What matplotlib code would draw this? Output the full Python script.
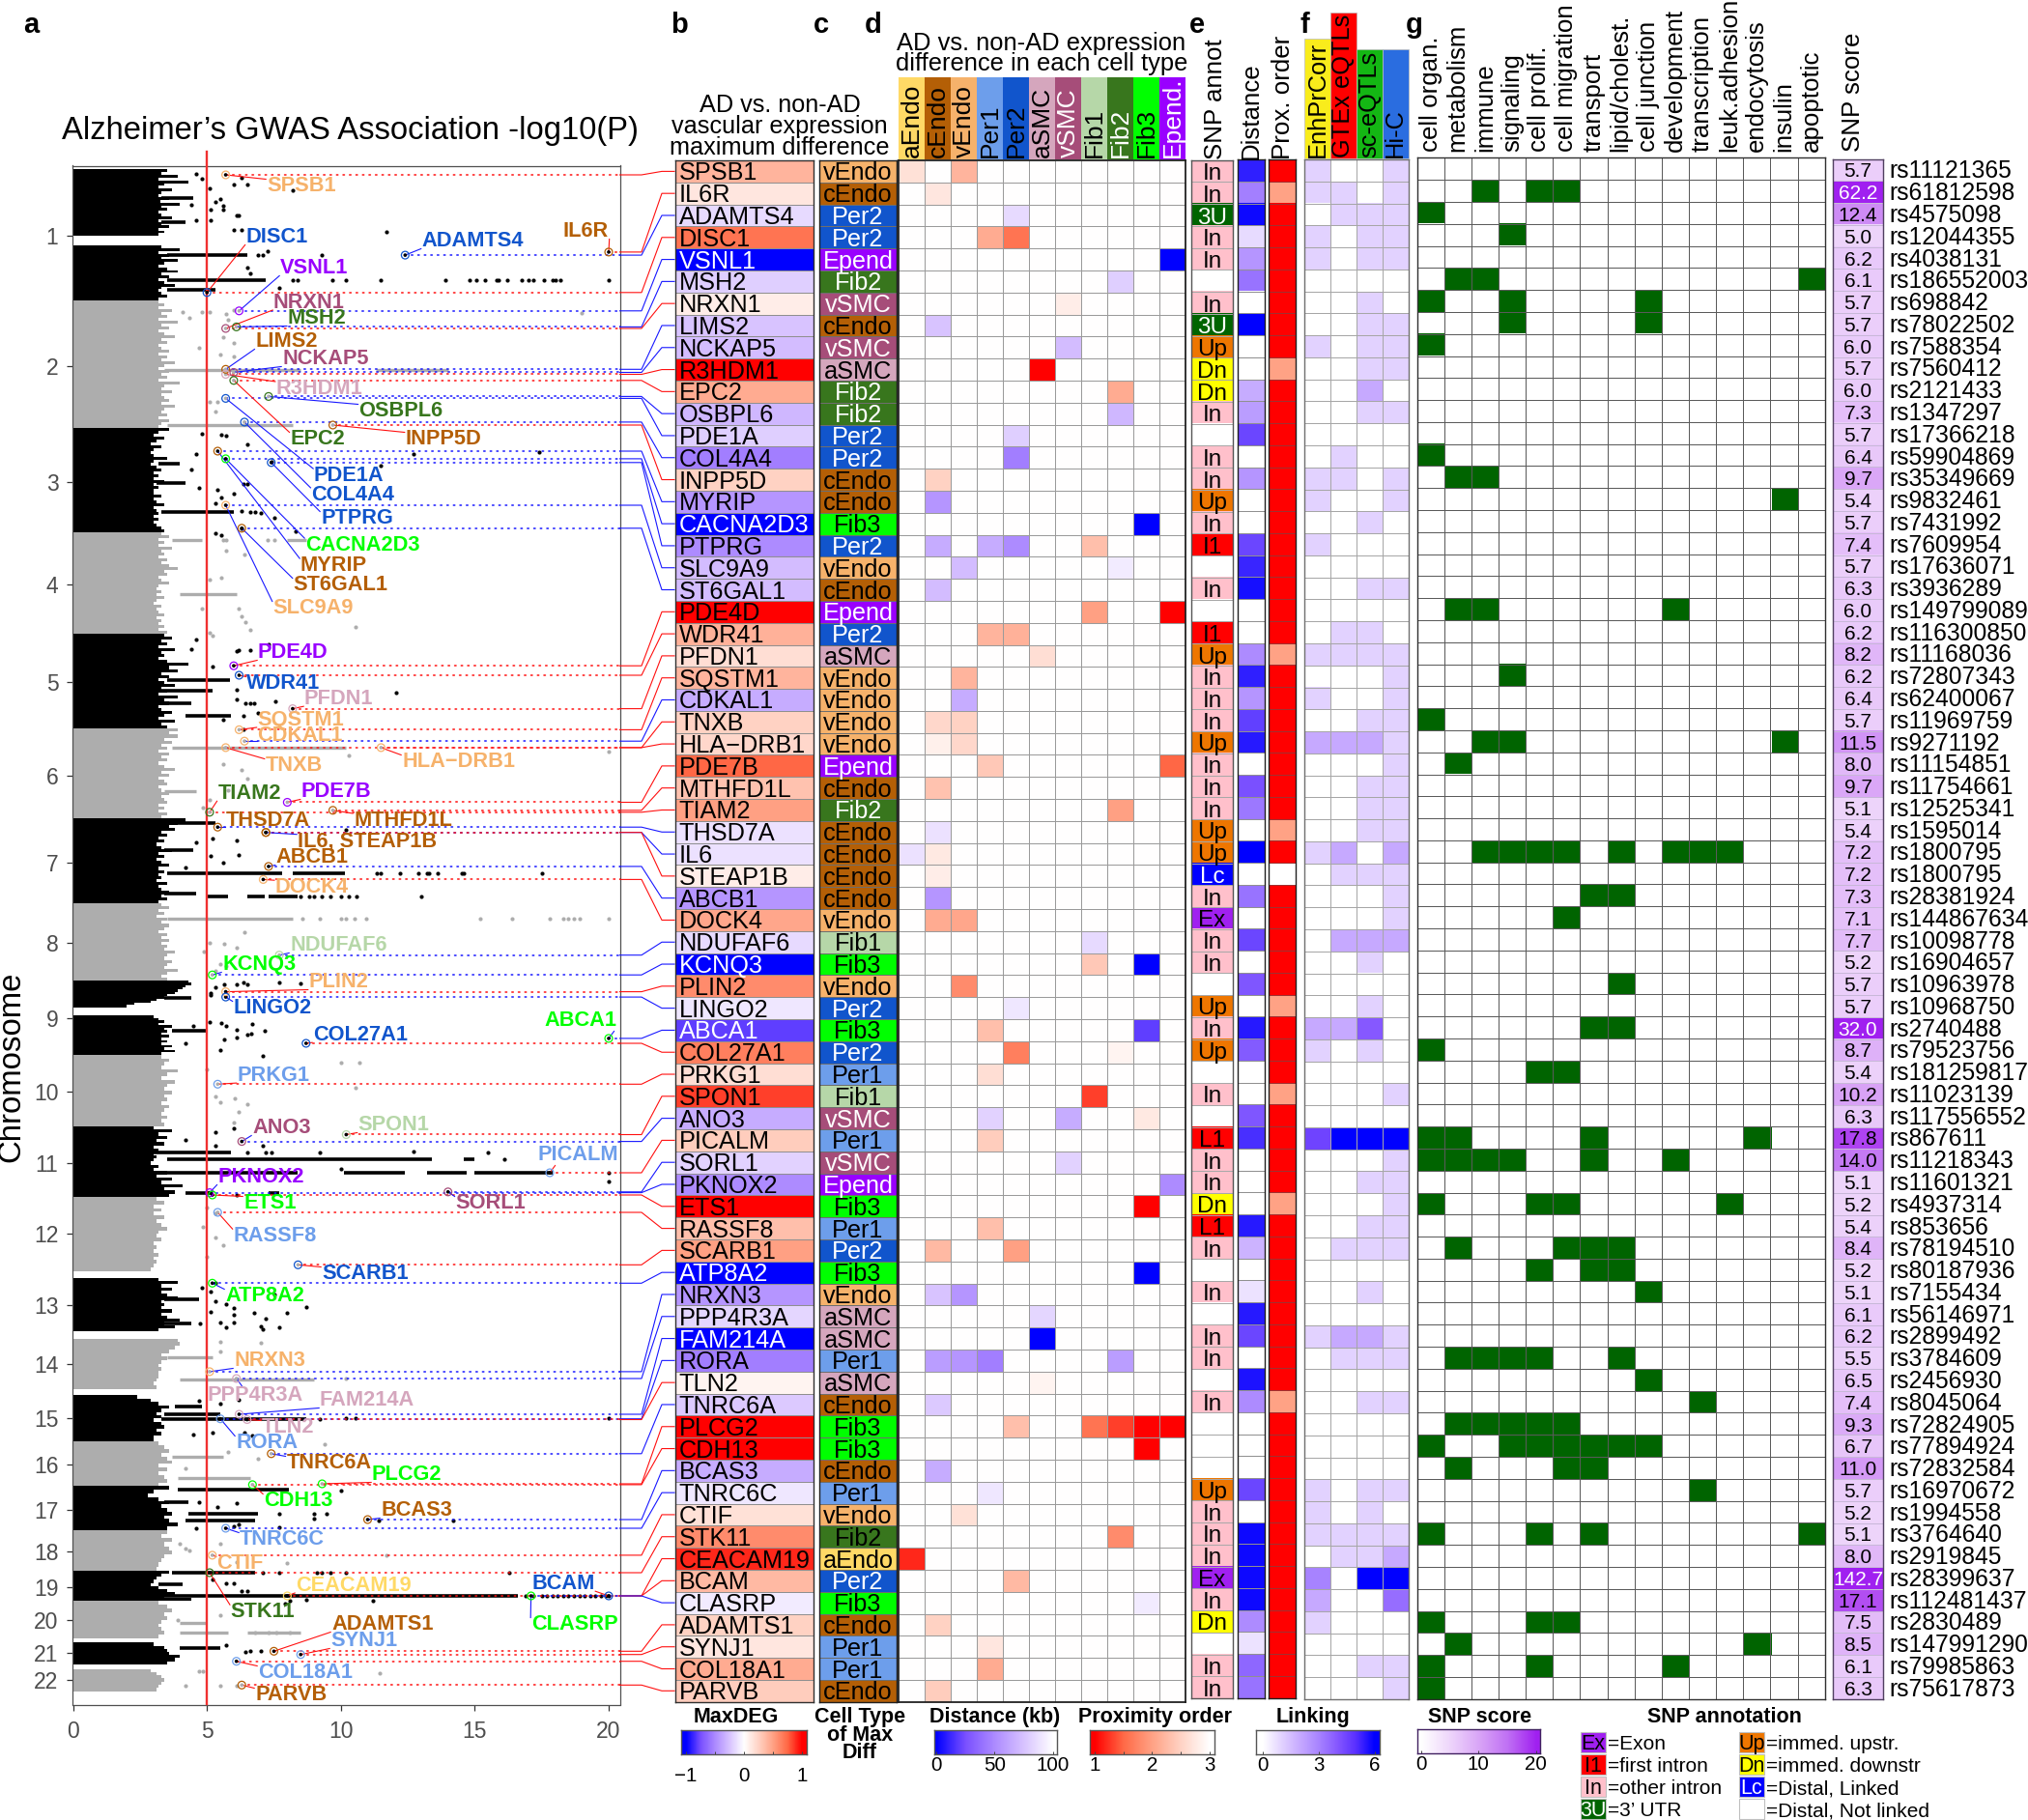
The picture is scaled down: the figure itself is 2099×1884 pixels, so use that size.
import numpy as np
import matplotlib
matplotlib.use("Agg")
import matplotlib.pyplot as plt
from matplotlib.colors import LinearSegmentedColormap, Normalize, to_rgba
from matplotlib.patches import Rectangle

plt.rcParams['font.family'] = ['Liberation Sans', 'DejaVu Sans']

# ------------------------------------------------------------------ data
genes = ["SPSB1","IL6R","ADAMTS4","DISC1","VSNL1","MSH2","NRXN1","LIMS2","NCKAP5","R3HDM1","EPC2","OSBPL6","PDE1A","COL4A4",
         "INPP5D","MYRIP","CACNA2D3","PTPRG","SLC9A9","ST6GAL1","PDE4D","WDR41","PFDN1","SQSTM1","CDKAL1","TNXB","HLA\u2212DRB1",
         "PDE7B","MTHFD1L","TIAM2","THSD7A","IL6","STEAP1B","ABCB1","DOCK4","NDUFAF6","KCNQ3","PLIN2","LINGO2","ABCA1","COL27A1",
         "PRKG1","SPON1","ANO3","PICALM","SORL1","PKNOX2","ETS1","RASSF8","SCARB1","ATP8A2","NRXN3","PPP4R3A","FAM214A","RORA",
         "TLN2","TNRC6A","PLCG2","CDH13","BCAS3","TNRC6C","CTIF","STK11","CEACAM19","BCAM","CLASRP","ADAMTS1","SYNJ1","COL18A1","PARVB"]
cell_of_max = ["vEndo","cEndo","Per2","Per2","Epend","Fib2","vSMC","cEndo","vSMC","aSMC","Fib2","Fib2","Per2","Per2",
               "cEndo","cEndo","Fib3","Per2","vEndo","cEndo","Epend","Per2","aSMC","vEndo","vEndo","vEndo","vEndo",
               "Epend","cEndo","Fib2","cEndo","cEndo","cEndo","cEndo","vEndo","Fib1","Fib3","vEndo","Per2","Fib3","Per2",
               "Per1","Fib1","vSMC","Per1","vSMC","Epend","Fib3","Per1","Per2","Fib3","vEndo","aSMC","aSMC","Per1",
               "aSMC","cEndo","Fib3","Fib3","cEndo","Per1","vEndo","Fib2","aEndo","Per2","Fib3","cEndo","Per1","Per1","cEndo"]
cell_types = ["aEndo","cEndo","vEndo","Per1","Per2","aSMC","vSMC","Fib1","Fib2","Fib3","Epend"]
cell_headers = ["aEndo","cEndo","vEndo","Per1","Per2","aSMC","vSMC","Fib1","Fib2","Fib3","Epend."]
cell_colors = ["#FFD966","#B45F06","#F6B26B","#6D9EEB","#1155CC","#D5A6BD","#A64D79","#B6D7A8","#38761D","#00FF00","#9900FF"]
cell_text_white = ["Per2","vSMC","Fib2","Epend"]

deg_aEndo = {"SPSB1":.17,"IL6":-.12,"CEACAM19":.9}
deg_cEndo = {"IL6R":.14,"LIMS2":-.25,"INPP5D":.25,"MYRIP":-.45,"PTPRG":-.35,"ST6GAL1":-.28,"TNXB":.22,"HLA\u2212DRB1":.08,
             "MTHFD1L":.33,"THSD7A":-.12,"IL6":.12,"STEAP1B":.1,"ABCB1":-.45,"DOCK4":.45,"SCARB1":.38,"NRXN3":-.25,"RORA":-.42,
             "TNRC6A":-.22,"BCAS3":-.35,"ADAMTS1":.25,"PARVB":.28}
deg_vEndo = {"SPSB1":.4,"SLC9A9":-.28,"SQSTM1":.4,"CDKAL1":-.35,"TNXB":.25,"HLA\u2212DRB1":.22,"DOCK4":.47,"PLIN2":.6,
             "NRXN3":-.45,"RORA":-.45,"CTIF":.17}
deg_Per1 = {"DISC1":.45,"PTPRG":-.35,"WDR41":.4,"PDE7B":.3,"ABCA1":.35,"PRKG1":.18,"ANO3":-.18,"PICALM":.28,"RASSF8":.35,
            "RORA":-.55,"TNRC6C":-.1,"SYNJ1":.14,"COL18A1":.45}
deg_Per2 = {"ADAMTS4":-.15,"DISC1":.7,"PDE1A":-.2,"COL4A4":-.55,"PTPRG":-.5,"WDR41":.42,"LINGO2":-.1,"COL27A1":.65,
            "SCARB1":.5,"PLCG2":.35,"BCAM":.38}
deg_aSMC = {"R3HDM1":1,"PFDN1":.18,"PPP4R3A":-.17,"FAM214A":-1,"TLN2":.06}
deg_vSMC = {"NRXN1":.1,"NCKAP5":-.28,"ANO3":-.35,"SORL1":-.18}
deg_Fib1 = {"PTPRG":.35,"PDE4D":.5,"NDUFAF6":-.15,"KCNQ3":.3,"SPON1":.85,"PLCG2":.7}
deg_Fib2 = {"MSH2":-.2,"EPC2":.45,"OSBPL6":-.3,"SLC9A9":-.08,"TIAM2":.5,"COL27A1":.06,"RORA":-.42,"PLCG2":.85,"STK11":.6}
deg_Fib3 = {"CACNA2D3":-1,"KCNQ3":-1,"ABCA1":-.8,"ANO3":.12,"ETS1":1,"ATP8A2":-1,"PLCG2":1,"CDH13":1,"CLASRP":-.08}
deg_Epend = {"VSNL1":-1,"PDE4D":1,"PDE7B":.75,"PKNOX2":-.5,"PLCG2":1}
deg_columns = [deg_aEndo,deg_cEndo,deg_vEndo,deg_Per1,deg_Per2,deg_aSMC,deg_vSMC,deg_Fib1,deg_Fib2,deg_Fib3,deg_Epend]

snp_annot = ["In","In","3U","In","In","","In","3U","Up","Dn","Dn","In","","In","In","Up","In","I1","","In","","I1","Up","In","In","In","Up",
             "In","In","In","Up","Up","Lc","In","Ex","In","In","","Up","In","Up","","In","","L1","In","In","Dn","L1","In","","In","","In","In",
             "","In","","","","Up","In","In","In","Ex","In","Dn","","In","In"]
annot_colors = {"":"#FFFFFF","In":"#FFC0CB","3U":"#006400","Up":"#EE7600","Dn":"#FFFF00","I1":"#FF0000","L1":"#FF0000","Lc":"#0000FF","Ex":"#A020F0"}
annot_text_white = ["3U","Lc"]

distance_kb = [10,45,3,85,55,40,100,0,100,100,65,58,22,100,55,100,100,22,12,5,100,100,50,10,55,20,8,100,25,42,100,0,100,40,100,22,100,28,100,8,30,100,
               100,28,15,100,100,100,8,68,100,88,8,22,100,6,50,100,100,100,22,100,3,3,3,3,50,88,35,40]
prox_second = ["IL6R","R3HDM1","PFDN1","THSD7A","LINGO2","SPON1","ETS1","TNRC6A"]
prox_third = ["STEAP1B"]

link_EnhPrCorr = {"SPSB1":1,"IL6R":1,"DISC1":1,"VSNL1":1,"NCKAP5":1,"INPP5D":1,"MYRIP":1,"PTPRG":1,"PFDN1":1,"CDKAL1":1,"HLA\u2212DRB1":2,"IL6":1,
                  "ABCA1":2,"COL27A1":1,"PICALM":4.5,"FAM214A":1,"TNRC6C":1,"CTIF":1,"STK11":1,"BCAM":3,"CLASRP":2,"ADAMTS1":1}
link_GTEx = {"IL6R":1,"ADAMTS4":1,"COL4A4":1,"INPP5D":1,"WDR41":1,"PFDN1":1,"HLA\u2212DRB1":2,"IL6":2,"STEAP1B":1,"NDUFAF6":2,"ABCA1":2,
             "PICALM":6,"SCARB1":1,"FAM214A":2,"RORA":1,"STK11":1,"CEACAM19":1}
link_sc = {"ADAMTS4":1,"DISC1":1,"VSNL1":1,"NRXN1":1,"LIMS2":1,"NCKAP5":1,"R3HDM1":1,"EPC2":2,"OSBPL6":1,"CACNA2D3":1,"ST6GAL1":1,"WDR41":1,"PFDN1":1,
           "TNXB":1,"HLA\u2212DRB1":2,"MTHFD1L":1,"TIAM2":1,"THSD7A":1,"STEAP1B":1,"NDUFAF6":2,"KCNQ3":1,"LINGO2":1,"ABCA1":4,"COL27A1":1,"PICALM":6,
           "PKNOX2":1,"RASSF8":1,"SCARB1":1,"NRXN3":1,"FAM214A":2,"RORA":1,"TNRC6A":1,"TNRC6C":1,"CTIF":1,"STK11":1,"CEACAM19":1,"BCAM":6,"COL18A1":1}
link_HiC = {"SPSB1":1,"IL6R":1,"ADAMTS4":1,"DISC1":1,"VSNL1":1,"LIMS2":1,"NCKAP5":1,"R3HDM1":1,"OSBPL6":1,"INPP5D":1,"MYRIP":1,"ST6GAL1":1,"PFDN1":1,
            "SQSTM1":1,"CDKAL1":1,"TNXB":1,"HLA\u2212DRB1":1,"PDE7B":1,"MTHFD1L":1,"TIAM2":1,"THSD7A":1,"IL6":2,"STEAP1B":1,"ABCB1":1,"DOCK4":1,"NDUFAF6":2,
            "SPON1":1,"PICALM":6,"SORL1":1,"PKNOX2":1,"ETS1":1,"RASSF8":1,"SCARB1":1,"FAM214A":1,"RORA":1,"TNRC6A":1,"TNRC6C":1,"STK11":1,"CEACAM19":2,
            "BCAM":6,"CLASRP":3.5,"COL18A1":1,"PARVB":1}
link_columns = [link_EnhPrCorr,link_GTEx,link_sc,link_HiC]
link_headers = ["EnhPrCorr","GTEx eQTLs","sc-eQTLs","Hi-C"]
link_header_colors = ["#F9EC1C","#FF0000","#14B714","#2A6DE0"]

go_terms = ["cell organ.","metabolism","immune","signaling","cell prolif.","cell migration","transport","lipid/cholest.","cell junction",
            "development","transcription","leuk.adhesion","endocytosis","insulin","apoptotic"]
go_cell_organ = ["ADAMTS4","NRXN1","NCKAP5","COL4A4","TNXB","COL27A1","PICALM","SORL1","ETS1","CDH13","STK11","ADAMTS1","COL18A1","PARVB"]
go_metabolism = ["MSH2","INPP5D","PDE4D","PDE7B","PICALM","SORL1","SCARB1","RORA","PLCG2","BCAS3","SYNJ1"]
go_immune = ["IL6R","MSH2","INPP5D","PDE4D","HLA\u2212DRB1","IL6","SORL1","RORA","PLCG2"]
go_signaling = ["DISC1","NRXN1","LIMS2","SQSTM1","HLA\u2212DRB1","IL6","SORL1","RORA","PLCG2","CDH13"]
go_prolif = ["IL6R","IL6","PRKG1","ETS1","ATP8A2","RORA","PLCG2","CDH13","STK11","ADAMTS1","COL18A1"]
go_migration = ["IL6R","IL6","DOCK4","PRKG1","ETS1","SCARB1","PLCG2","CDH13","BCAS3","ADAMTS1"]
go_transport = ["ABCB1","ABCA1","PICALM","SORL1","SCARB1","ATP8A2","CDH13","BCAS3","STK11"]
go_lipid = ["IL6","ABCB1","PLIN2","ABCA1","SCARB1","ATP8A2","RORA","CDH13"]
go_junction = ["NRXN1","LIMS2","NRXN3","TLN2","CDH13"]
go_development = ["PDE4D","IL6","SORL1","COL18A1"]
go_transcription = ["IL6","TNRC6A","TNRC6C"]
go_adhesion = ["IL6","ETS1"]
go_endocytosis = ["PICALM","SYNJ1"]
go_insulin = ["MYRIP","HLA\u2212DRB1"]
go_apoptotic = ["MSH2","STK11"]
go_columns = [go_cell_organ,go_metabolism,go_immune,go_signaling,go_prolif,go_migration,go_transport,go_lipid,go_junction,
              go_development,go_transcription,go_adhesion,go_endocytosis,go_insulin,go_apoptotic]

snp_score = [5.7,62.2,12.4,5.0,6.2,6.1,5.7,5.7,6.0,5.7,6.0,7.3,5.7,6.4,9.7,5.4,5.7,7.4,5.7,6.3,6.0,6.2,8.2,6.2,6.4,5.7,11.5,8.0,9.7,5.1,5.4,7.2,7.2,
             7.3,7.1,7.7,5.2,5.7,5.7,32.0,8.7,5.4,10.2,6.3,17.8,14.0,5.1,5.2,5.4,8.4,5.2,5.1,6.1,6.2,5.5,6.5,7.4,9.3,6.7,11.0,5.7,5.2,5.1,8.0,142.7,17.1,7.5,8.5,6.1,6.3]
snp_ids = ["rs11121365","rs61812598","rs4575098","rs12044355","rs4038131","rs186552003","rs698842","rs78022502","rs7588354","rs7560412","rs2121433",
           "rs1347297","rs17366218","rs59904869","rs35349669","rs9832461","rs7431992","rs7609954","rs17636071","rs3936289","rs149799089","rs116300850",
           "rs11168036","rs72807343","rs62400067","rs11969759","rs9271192","rs11154851","rs11754661","rs12525341","rs1595014","rs1800795","rs1800795",
           "rs28381924","rs144867634","rs10098778","rs16904657","rs10963978","rs10968750","rs2740488","rs79523756","rs181259817","rs11023139","rs117556552",
           "rs867611","rs11218343","rs11601321","rs4937314","rs853656","rs78194510","rs80187936","rs7155434","rs56146971","rs2899492","rs3784609","rs2456930",
           "rs8045064","rs72824905","rs77894924","rs72832584","rs16970672","rs1994558","rs3764640","rs2919845","rs28399637","rs112481437","rs2830489",
           "rs147991290","rs79985863","rs75617873"]

# genome position of each lead SNP along the Manhattan y axis
hit_pos = [181,260.9,264.1,302.8,321.8,338.4,340,382.3,385.5,387.5,393.8,410.4,412.4,436.9,440,467,474.9,478.8,523,546.8,689.2,699,733.6,755.4,767.2,773.9,773.9,
           830.5,838.8,840.8,856.2,861.7,861.7,896.9,910.4,988.7,1009.2,1026.6,1032.1,1074.9,1080,1122.3,1174.5,1181.6,1214,1233.8,1234.6,1237,1255,1309.3,1328.3,
           1419.9,1427,1464,1468.7,1469.5,1504.8,1536,1536.9,1573,1582,1609.9,1628,1652,1652,1652,1709.3,1712.7,1719.7,1744.3]

chrom_labels = [str(i) for i in range(1,23)]
chrom_ticks = [244.3,378.8,499.4,605.3,706.2,802.8,893,976,1054,1130,1204,1277,1350.7,1411.7,1468,1516,1563,1606,1643,1677,1711,1738.7]
band_top = [175.1,254.2,310.8,443.2,551.2,655.6,754.2,847.5,934.9,1015.1,1051,1092,1165.8,1239,1323,1385.7,1444.5,1492.5,1538.4,1583.8,1625.9,1657.5,1700.4,1727.6]
band_bot = [244.3,310.8,443.2,551.2,655.6,754.2,847.5,934.9,1015.1,1042.8,1091.9,1165.8,1239,1316,1378.2,1437.8,1492.5,1538.4,1583.8,1625.9,1657.5,1695.9,1722.7,1750.6]
band_black = [1,1,0,1,0,1,0,1,0,1,1,0,1,0,1,0,1,0,1,0,1,0,1,0]
edge_chr1a = [3.5,3.3,3.9,3.2,4.3,3.4,3.2,3.7,3.3,3.2,3.6,3.25,4.0,3.3,3.5,3.2,3.3,3.7,3.2,3.3,3.6,3.2,3.4,3.2]
edge_chr1b = [3.3,4.0,3.2,3.6,3.3,3.9,3.4,3.2,3.5,3.9,3.3,3.6,3.2,3.4,3.8,3.3,3.2,3.3,3.5,3.2]
edge_chr2 = [3.2,3.4,3.2,3.7,3.3,3.5,3.2,3.9,3.3,3.6,3.2,3.4,3.8,3.3,3.5,3.2,3.3,3.6,3.2,3.5,3.3,3.8,3.4,3.2,3.6,3.3,3.5,3.2,4.0,3.4,3.3,3.7,3.3,3.4,3.6,3.3,3.8,3.4,3.3,3.5,3.2,3.6,3.3,3.2]
edge_chr3 = [3.6,3.2,3.0,3.4,3.1,2.9,3.3,3.0,2.9,3.0,3.5,3.0,2.9,3.1,3.3,3.0,3.2,3.0,3.4,3.0,3.2,3.0,3.0,3.3,3.0,3.1,3.4,3.0,3.1,3.2,3.0,3.2,3.0,3.1,3.3,3.4]
edge_chr4 = [3.3,3.6,3.2,3.4,3.2,3.7,3.3,3.4,3.2,3.5,3.3,3.6,3.9,3.4,3.5,3.2,3.3,3.6,3.2,3.1,3.3,3.1,3.4,3.1,3.0,3.3,3.1,3.2,3.4,3.1,3.3,3.2,3.4,3.2,3.5]
edge_chr5 = [3.4,3.7,3.3,3.5,3.2,3.8,3.3,3.4,3.2,3.5,4.3,3.6,3.9,3.3,3.6,3.2,3.4,3.8,3.3,3.5,3.2,3.9,3.4,3.6,3.2,3.3,3.7,3.4,3.2,3.8,3.3,3.5]
edge_chr6 = [3.9,3.6,3.9,3.4,3.7,3.3,3.5,3.2,3.6,3.3,3.5,3.2,3.4,3.8,3.3,3.6,3.2,3.4,3.5,3.2,3.3,3.6,3.3,3.4,3.5,3.2,3.4,3.2,3.5,3.3]
edge_chr7 = [4.2,3.9,3.6,3.8,3.3,3.5,3.2,3.4,3.1,3.3,3.7,3.2,3.4,3.1,3.3,3.6,3.2,3.4,3.2,3.3,3.1,3.5,3.2,3.3,3.6,3.3,3.5,3.2]
edge_chr8 = [3.3,3.6,3.2,3.4,3.1,3.5,3.3,3.6,3.4,3.2,3.5,3.3,3.6,3.3,3.5,3.4,3.8,3.5,3.4,3.7,3.5,3.4,3.9,3.5,3.3,3.5]
edge_chr9a = [4.3,4.4,4.2,4.1,3.9,3.8,3.5,3.4,3.1,2.9,2.3,2.0]
edge_chr9b = [3.0,3.2,3.4,3.2,3.7,3.4,3.5,3.3,3.6,3.3,3.5,3.3,3.7,3.4,3.8,3.3]
edge_chr10 = [3.3,3.6,3.4,3.3,3.9,3.5,3.3,3.8,3.5,3.4,3.7,3.4,3.5,3.3,3.6,3.4,3.3,3.5,3.3,3.4]
edge_chr11 = [3.0,3.7,3.2,3.5,3.1,3.4,3.0,3.2,3.0,3.1,3.0,2.9,3.2,3.0,3.5,3.1,3.7,3.3,4.1,3.4,3.8,3.6]
edge_chr12 = [3.1,3.4,3.0,3.3,3.0,3.4,3.1,3.3,3.5,3.2,3.1,3.3,3.0,3.1,3.0,3.2,3.0,3.1,3.0,2.9]
edge_chr13 = [3.2,3.9,3.3,3.7,3.3,3.5,3.9,3.3,3.4,3.3,3.7,3.3,3.5,4.0,3.4,3.8,3.2]
edge_chr14 = [3.9,4.0,3.8,3.6,3.3,3.5,3.3,3.2,3.3,3.2,3.2,3.1,3.0,3.1]
edge_chr15 = [2.4,2.9,3.2,3.6,3.3,3.1,3.3,3.0,3.3,3.4,3.1,3.3,3.0,3.0]
edge_chr16 = [3.2,3.4,3.6,3.3,3.5,3.7,3.2,3.5,3.2,3.4,3.5,3.2]
edge_chr17 = [3.6,3.0,2.8,3.2,3.6,3.3,3.5,3.7,3.4,3.6,3.9,3.5]
edge_chr18 = [3.5,3.3,3.7,3.4,3.6,3.7,3.4,3.3,3.2,3.1]
edge_chr19 = [3.6,3.3,3.1,3.0,2.9,3.2,3.5,3.8,3.4,4.4]
edge_chr20 = [3.2,3.5,3.7,3.4,3.5,3.3,3.2,3.3,3.4,3.2]
edge_chr21 = [3.0,3.4,3.5,3.6,4.0,3.8,3.5]
edge_chr22 = [2.9,3.1,3.3,3.4,3.3,3.2,3.1]
band_edges = [edge_chr1a,edge_chr1b,edge_chr2,edge_chr3,edge_chr4,edge_chr5,edge_chr6,edge_chr7,edge_chr8,edge_chr9a,edge_chr9b,edge_chr10,
              edge_chr11,edge_chr12,edge_chr13,edge_chr14,edge_chr15,edge_chr16,edge_chr17,edge_chr18,edge_chr19,edge_chr20,edge_chr21,edge_chr22]

streak_black = [(264,3.5,6.5),(289.8,3.5,7.2),(299.7,3.5,5.3),(205,3.3,4.5),(230,3.3,4.2),(530,3.3,6.0),(480,3.2,4.0),(500,3.1,4.2),
                (704,3.5,5.85),(715,3.3,5.2),(741.5,4.2,5.9),(728,3.4,4.4),(904.4,3.5,7.8),(904.4,8.2,10.15),(928.5,5.0,5.8),(928.5,6.5,7.15),
                (928.5,7.3,8.4),(852,3.5,5.3),(880,3.4,4.5),(925,3.4,4.6),(1067,3.7,5.0),(1033,3.4,4.4),(1193,2.9,5.9),(1200,3.5,13.4),(1200,14.6,15),
                (1214,3.5,8.4),(1214,10.1,12.4),(1214,13.2,14.7),(1214,15,17.9),(1234.6,4.2,5.2),(1234.6,7.3,7.7),(1468.7,3.3,8.7),(1463.9,3.4,5.5),
                (1456,3.8,4.8),(1542,3.9,8.05),(1566.7,4.3,6.9),(1574,4.2,6.8),(1555,3.4,4.3),(1652,2.9,16.6),(1628,3.7,6.8),(1640,3.2,4.1),
                (1706,4.0,5.5),(1345,3.4,4.7),(1370,3.3,4.4)]
streak_grey = [(383,3.4,5.0),(383,5.0,8.5),(383,11.3,14.0),(440,3.5,8.2),(615,4.0,6.1),(559.5,3.7,4.8),(559.5,8,8.7),(774,3.7,10.2),(818.6,3.4,4.6),
               (951,3.5,8.2),(1405,3.5,5.2),(1427.7,4.0,9.0),(1507.8,3.7,5.6),(1529.8,3.9,6.6),(1680,4.0,5.0),(1690,4.0,5.8),(1690,6.5,8.5)]

chr1_dots = [(6.3,183.8),(6.5,191),(6.0,191),(8.2,196.9),(5.1,195),(5.3,208.7),(5.5,206),(5.6,212.7),(5.6,217.4),(6.1,222.6),(6.2,223.4),(5.15,216.6),(5.15,228.5),
             (6.0,237.6),(6.3,238.4),(11.7,239.6),(7.25,260),(9.3,264),(6.9,264),(7.1,264),(6.5,277),(6.6,282.7),(7.7,297.7),(4.6,180),(4.8,185),(4.4,212),(4.6,228)]
chr1_row = [8.2,8.4,9.7,10.2,11.5,13.9,14.8,15.05,15.4,15.8,15.9,16.2,16.75,17,17.2,17.6,17.9,18,18.2,20]
chr3_dots = [(5.55,450),(5.7,451),(4.8,449),(6.5,460),(12.7,470.5),(17.4,468.5),(11.5,481.6),(7.4,477.6),(6.35,501),(6.5,501),(5.4,507),(5.55,515),(6,511),(5.3,521),
             (6.3,529),(6.6,530),(6.8,530),(7,531),(7.5,535.7),(8.3,549.6),(6.3,546.8),(5.3,552),(5.55,554),(4.6,470),(4.4,486),(4.7,505)]
chr5_dots = [(7.3,666.6),(6.1,674),(6.2,673),(6.6,672.6),(12.05,716.8),(6.1,713.8),(6.1,723.7),(6.45,728.5),(6.6,728.5),(6.75,728.5),(7.55,725.7),(6.9,737.6),(6.35,741.5),(6.35,755.4),
             (5.2,690),(5.6,745),(4.6,662),(4.4,672)]
chr7_row = [11.35,11.5,12.2,12.9,13.2,13.3,13.6,14.5,14.6,17.5]
chr7_dots = [(8.5,928),(8.8,928),(9.0,928),(9.3,928),(9.6,928),(10.0,928),(10.3,928),(10.6,928),(13,928),(10.2,859),(6.2,885),(5.15,885.8),(4.2,897.7),(5.6,893),(6.1,870),(5.2,868),(4.6,872)]
chr89_dots = [(5.15,1028),(5.3,1022),(5.65,1019.5),(6.1,1019.5),(6.35,1017.5),(6.5,1019.5),(7.7,1017.5),(8.5,1018.3),(5.15,1030),(5.1,1057.8),(5.55,1059),(5.7,1061.8),(6.1,1065.8),
              (6.5,1070.9),(6.65,1069.7),(6.7,1059.8),(7.15,1067),(6.1,1073.7),(5.65,1075.6),(5.5,1087.5),(7.1,1093.4),(4.5,1062),(4.2,1080)]
chr11_dots = [(6.5,1193),(7.2,1193),(7.4,1193),(9.2,1193),(12.7,1192),(15.5,1193.5),(16.1,1200),(10,1210),(20,1214),(20,1222.8),(5.3,1172),(6,1168),(7.1,1186),(5.3,1186),(4.2,1180),(6.1,1237)]
chr13_dots = [(4.8,1332.8),(5.3,1328),(5.15,1337),(5.3,1346.6),(5.7,1350.3),(6.0,1354),(6.0,1361.5),(6.75,1358.8),(8.0,1358.8),(8.7,1352.9),(5.5,1369),(5.7,1374.5),(6.0,1369),(7,1372.6),
              (7.1,1376.3),(7.2,1365),(7.7,1373.7),(7.5,1340),(4.75,1370),(5.15,1357.7)]
chr15_dots = [(9.2,1469.5),(10.2,1467.6),(10.55,1467.6),(20,1467.6),(5.5,1453),(6.2,1449),(5.2,1483),(6.4,1483),(6.7,1486),(4.7,1450),(4.5,1485)]
chr17_dots = [(10,1543.2),(9.0,1566.7),(9.0,1572),(9.45,1566.7),(7.7,1566.7),(11.4,1574),(14.2,1574),(7.7,1581),(6.0,1580),(6.2,1578),(4.7,1555),(5.4,1560),(6.1,1556),(4.6,1582)]
chr19_dots = [(7.1,1628),(7.7,1628),(9.1,1628),(9.3,1628),(9.6,1628),(10.2,1628),(16.3,1628),(5.2,1635),(5.7,1639),(6.0,1639),(6.3,1647),(6.5,1647),(8.1,1657),(8.7,1656),(11.2,1657.5),(7.9,1660)]
chr19_row = [16.9,17.2,17.5,17.7,17.9,18.1,18.3,18.5,18.7,18.9,19.1,19.3,19.5,19.7,19.9,20]
chr21_dots = [(6.45,1710.5),(6.6,1709),(7.0,1709),(5.7,1703)]
grey_dots = [(5.1,323),(5.7,325),(5.8,331),(6,321),(19,324),(4.8,323),(4.35,329),(4.1,323),(5.6,349),(6,355),(5.5,367),(6,369),(5.4,416),(5.3,426),(5.1,416),(4.7,360),
             (5.55,598),(5.7,558.7),(5.6,558.7),(7.25,559),(7.5,559),(5.7,570),(6.4,574),(6.2,630),(6.3,637.8),(6.45,643.7),(6.6,651.6),(10.55,648.8),(5.2,658),(5.1,655),(4.8,630),(5.1,600),
             (10.3,782),(20,778),(6.5,806),(6.3,797),(5.8,818),(4.85,836),(5.1,828),(5.6,791),
             (5.65,976.8),(6.1,980.7),(6.4,965),(5.1,976),(4.9,985),(5.5,998.5),(5.7,1000.5),(5.3,1005),
             (10,1100),(10.7,1100),(10.55,1126),(6.05,1137),(6.2,1150.8),(5.5,1141),(6,1162),(5,1107),(5.3,1135),(6.5,1143),
             (5,1250),(5.3,1256),(5.3,1281),(5.6,1289),(4.85,1270),(5,1301),
             (5.5,1389.4),(5.5,1398.7),(7,1390.5),(10.2,1426.6),(9.4,1494.8),(6.9,1510),(4.2,1520),(5.8,1503),
             (11.7,1610),(8,1618.4),(6.1,1616.6),(4.2,1603),(4.35,1605),(4.0,1598),(5.5,1598),
             (5.5,1672),(3.9,1677),(6.8,1690),(7.3,1690),(7.6,1690),(8.1,1690),
             (11.45,1732),(5.5,1745),(6.1,1745),(4.7,1730),(4.85,1730),(4.2,1745)]
chr8_row = [8.55,9.2,10,10.2,10.5,10.95,15.2,16.4,17.8,18.3,18.5,18.7,18.9,20]

# gene name label layout in the Manhattan panel (reference pixels; left edge, centre)
label_pos = {"SPSB1":(276,193),"DISC1":(254.5,246),"ADAMTS4":(436.6,250),"IL6R":(582.6,240),"VSNL1":(290,278),"NRXN1":(283,313.5),"MSH2":(297.8,330),
             "LIMS2":(264.3,354),"NCKAP5":(292,372),"R3HDM1":(285.7,402.5),"OSBPL6":(371.4,426),"EPC2":(300.4,455),"INPP5D":(419.6,455),"PDE1A":(325,492.6),
             "COL4A4":(322.3,512.4),"PTPRG":(332,537),"CACNA2D3":(316,564.6),"MYRIP":(311,585.6),"ST6GAL1":(303.6,606),"SLC9A9":(282.6,630),"PDE4D":(267,676),
             "WDR41":(255.4,708),"PFDN1":(315,723.7),"SQSTM1":(266.5,745.5),"CDKAL1":(266.5,762),"TNXB":(274.6,793),"HLA\u2212DRB1":(416,789),"TIAM2":(225.4,821.8),
             "PDE7B":(311.6,820),"THSD7A":(233.5,850),"MTHFD1L":(366,849.5),"IL6":(308,871.2),"ABCB1":(285.7,888),"DOCK4":(284.8,918.7),"NDUFAF6":(300,979),
             "KCNQ3":(230,999),"PLIN2":(319.6,1017),"LINGO2":(241.5,1044),"ABCA1":(563.4,1057),"COL27A1":(324,1071.7),"PRKG1":(245.5,1113.6),"SPON1":(370.5,1165),
             "ANO3":(261,1168),"PICALM":(556,1196),"PKNOX2":(225.4,1219),"SORL1":(471.4,1246),"ETS1":(252,1246),"RASSF8":(241.5,1279.7),"SCARB1":(333,1319),
             "ATP8A2":(233,1342),"NRXN3":(242,1409),"PPP4R3A":(215,1445),"FAM214A":(331,1450),"TLN2":(271,1478),"RORA":(244,1494),"TNRC6A":(296.4,1515),
             "PLCG2":(385,1527),"CDH13":(273,1554),"BCAS3":(394,1564),"TNRC6C":(248,1594),"CTIF":(224.6,1619),"CEACAM19":(306,1641.5),"BCAM":(550,1639.7),
             "STK11":(238.8,1668.7),"CLASRP":(550,1682),"ADAMTS1":(343,1682),"SYNJ1":(342,1699),"COL18A1":(267,1732),"PARVB":(264,1755)}
label_override = {"IL6":"IL6, STEAP1B"}

# ------------------------------------------------------------------ helpers
W, H = 2099, 1884
fig = plt.figure(figsize=(W/100, H/100), dpi=100, facecolor="white")
N = len(genes)
assert all(len(a) == N for a in [cell_of_max, snp_annot, distance_kb, snp_score, snp_ids, hit_pos])
gene_idx = {g:i for i,g in enumerate(genes)}
ctype_color = dict(zip(cell_types, cell_colors))

def axpx(l,t,r,b,**kw):
    return fig.add_axes([l/W, 1-b/H, (r-l)/W, (b-t)/H], **kw)

def T(x,y,s,size=18,ha="center",va="baseline",color="black",weight="normal",rot=0,zorder=10):
    return fig.text(x/W, 1-y/H, s, fontsize=size, ha=ha, va=va, color=color, fontweight=weight,
                    rotation=rot, zorder=zorder)

def table(box, rgba, grid, border, grid_lw=1.0, border_lw=1.4):
    l,t,r,b = box
    ax = axpx(l,t,r,b)
    nr,nc = rgba.shape[:2]
    ax.imshow(rgba, aspect="auto", extent=(0,nc,nr,0), interpolation="nearest")
    ax.hlines(np.arange(1,nr), 0, nc, colors=grid, lw=grid_lw*0.72)
    if nc > 1:
        ax.vlines(np.arange(1,nc), 0, nr, colors=grid, lw=grid_lw*0.72)
    ax.set_xticks([]); ax.set_yticks([])
    for s in ax.spines.values():
        s.set_color(border); s.set_linewidth(border_lw*0.72)
    return ax

def ramp(name, stops):
    return LinearSegmentedColormap.from_list(name, stops)

deg_cmap = ramp("deg",[(0,"#0000FF"),(.125,"#7A50FF"),(.25,"#AD8BFF"),(.375,"#D8C3FF"),(.5,"#FFFFFF"),(.625,"#FFD3C5"),(.75,"#FFA285"),(.875,"#FF6A47"),(1,"#FF0000")])
dist_cmap = ramp("dist",[(0,"#0000FF"),(.25,"#7A50FF"),(.5,"#AD8BFF"),(.75,"#D8C3FF"),(1,"#FFFFFF")])
prox_cmap = ramp("prox",[(0,"#FF0000"),(.25,"#FF6A47"),(.5,"#FFA285"),(.75,"#FFD3C5"),(1,"#FFFFFF")])
link_cmap = ramp("link",[(0,"#FFFFFF"),(1/6,"#E2D2FF"),(2/6,"#C6A9FF"),(3/6,"#A884FF"),(4/6,"#8658FF"),(5/6,"#5A30FF"),(1,"#0000FF")])
snp_cmap = ramp("snp",[(0,"#FFFFFF"),(.25,"#EED5FB"),(.5,"#D9A5F7"),(.75,"#C070F4"),(1,"#A020F0")])
deg_norm, dist_norm, prox_norm, link_norm, snp_norm = Normalize(-1,1), Normalize(0,100), Normalize(1,3), Normalize(0,6), Normalize(0,20)

# values assembled from the named arrays
deg = np.zeros((N,11))
for j,col in enumerate(deg_columns):
    for g,v in col.items():
        deg[gene_idx[g],j] = v
max_deg = deg[np.arange(N), np.abs(deg).argmax(axis=1)]
link = np.zeros((N,4))
for j,col in enumerate(link_columns):
    for g,v in col.items():
        link[gene_idx[g],j] = v
go = np.zeros((N,15),dtype=bool)
for j,col in enumerate(go_columns):
    for g in col:
        go[gene_idx[g],j] = True
prox = np.array([2 if g in prox_second else 3 if g in prox_third else 1 for g in genes],float)
hit_x = np.minimum(snp_score, 20.0)
signs = np.where(max_deg>=0, "#FF1010", "#1818FF")

# ------------------------------------------------------------------ table columns
ROW_T, ROW_B = 166.0, 1761.7
ROWH = (ROW_B-ROW_T)/N
def row_c(i): return ROW_T + (i+.5)*ROWH

table((699.3,ROW_T,841.6,ROW_B), deg_cmap(deg_norm(max_deg))[:,None,:], "#8F8F8F", "#303030")
for i,g in enumerate(genes):
    T(702.5,row_c(i)+9,g,size=18.2,ha="left",color="white" if max_deg[i]<-.7 else "black")

table((847.6,ROW_T,928,ROW_B), np.array([to_rgba(ctype_color[c]) for c in cell_of_max])[:,None,:], "#6E6E6E", "#202020")
for i,c in enumerate(cell_of_max):
    white = c in cell_text_white and genes[i] != "STK11"
    T(888,row_c(i)+9,c,size=18.2,color="white" if white else "black")

table((930,ROW_T,1227,ROW_B), deg_cmap(deg_norm(deg)), "#9A9A9A", "#202020", 1.0, 1.8)
dw = 27.0
for j,(h,c) in enumerate(zip(cell_headers,cell_colors)):
    fig.patches.append(Rectangle(((930+j*dw)/W,1-165/H),dw/W,85/H,transform=fig.transFigure,facecolor=c,edgecolor="none"))
    white = h in ["vSMC","Fib2","Epend."]
    T(930+(j+.5)*dw,163,h,size=19,va="bottom",rot=90,color="white" if white else "black")

a_rgba = np.array([to_rgba(annot_colors[a]) for a in snp_annot])[:,None,:]
table((1233,165.7,1275.5,1758), a_rgba, "#A8A8A8", "#555555")
eh = (1758-165.7)/N
for i,a in enumerate(snp_annot):
    if a:
        T(1254.5,165.7+(i+.5)*eh+9,a,size=17.5,color="white" if a in annot_text_white else "black")

table((1280.5,165,1309,1757.7), dist_cmap(dist_norm(distance_kb))[:,None,:], "#909090", "#202020")
table((1312.7,165,1341,1757.7), prox_cmap(prox_norm(prox))[:,None,:], "#A03030", "#202020")
T(1257.6,165,"SNP annot",size=18.6,va="bottom",rot=90)
T(1295,165,"Distance",size=18.6,va="bottom",rot=90)
T(1328,165,"Prox. order",size=18.6,va="bottom",rot=90)

table((1350,165,1457.7,1759), link_cmap(link_norm(link)), "#A6A6A6", "#707070")
link_tops = [40,12.7,51,51]
for j,(h,c,tp) in enumerate(zip(link_headers,link_header_colors,link_tops)):
    x0 = 1350+j*26.9
    fig.patches.append(Rectangle((x0/W,1-164/H),26.9/W,(164-tp)/H,transform=fig.transFigure,facecolor=c,edgecolor="#BBBBBB",lw=.5))
    T(x0+13.5,163,h,size=18.3,va="bottom",rot=90)

go_rgba = np.ones((N,15,4)); go_rgba[go] = to_rgba("#006400")
table((1466.6,163.4,1888.7,1758.7), go_rgba, "#5A5A5A", "#303030")
gw = (1888.7-1466.6)/15
for j,h in enumerate(go_terms):
    T(1466.6+(j+.5)*gw,157,h,size=18.6,va="bottom",rot=90)

table((1897.4,164.6,1948.8,1758.7), snp_cmap(snp_norm(np.minimum(snp_score,20)))[:,None,:], "#C8B8D8", "#504060")
sh = (1758.7-164.6)/N
for i,(s,r) in enumerate(zip(snp_score,snp_ids)):
    yy = 164.6+(i+.5)*sh
    T(1923,yy+7.5,f"{s:.1f}",size=15,color="white" if s>=20 else "black")
    T(1955.8,yy+8.5,r,size=17.7,ha="left")
T(1918,157,"SNP score",size=18.6,va="bottom",rot=90)

# headers & panel letters
for y,s in zip([43+9,64+9],["AD vs. non-AD expression","difference in each cell type"]):
    T(1078,y,s,size=18.4)
for y,s in zip([106.7+9,129+9,151+9],["AD vs. non-AD","vascular expression","maximum difference"]):
    T(807,y,s,size=18.2)
for x,s in zip([24,694,841.6,895,1231,1346,1455],list("abcdefg")):
    T(x,34,s,size=21,ha="left",weight="bold")

# ------------------------------------------------------------------ Manhattan panel
BOX = (75,171.5,641.5,1764.5)
X0 = 75.6; PXU = 27.72
ax = axpx(*BOX)
ax.set_xlim((BOX[0]-X0)/PXU, (BOX[2]-X0)/PXU)
ax.set_ylim(BOX[3],BOX[1])
GREY = "#ADADAD"
for t,b,k,edge in zip(band_top,band_bot,band_black,band_edges):
    ys = np.linspace(t,b,len(edge)+1)
    ax.fill_betweenx(ys,0,list(edge)+[edge[-1]],step="post",color="black" if k else GREY,lw=0,zorder=1)
ax.hlines([s[0] for s in streak_grey],[s[1] for s in streak_grey],[s[2] for s in streak_grey],colors=GREY,lw=2.4,zorder=2)
ax.hlines([s[0] for s in streak_black],[s[1] for s in streak_black],[s[2] for s in streak_black],colors="black",lw=2.6,zorder=3)
def dots(pts,c,z):
    pts = np.array(pts)
    ax.scatter(pts[:,0],pts[:,1],s=9,c=c,lw=0,zorder=z)
dots(grey_dots,GREY,2)
ax.scatter(chr8_row,[951]*len(chr8_row),s=9,c=GREY,lw=0,zorder=2)
for d in [chr1_dots,chr3_dots,chr5_dots,chr7_dots,chr89_dots,chr11_dots,chr13_dots,chr15_dots,chr17_dots,chr19_dots,chr21_dots]:
    dots(d,"black",3)
ax.scatter(chr1_row,[289.8]*len(chr1_row),s=9,c="black",lw=0,zorder=3)
ax.scatter(chr7_row,[904.4]*len(chr7_row),s=9,c="black",lw=0,zorder=3)
ax.scatter(chr19_row,[1652]*len(chr19_row),s=9,c="black",lw=0,zorder=3)

ax.plot([5,5],[BOX[3],157],color="#F03030",lw=1.7,clip_on=False,zorder=6)
xmax = ax.get_xlim()[1]
for x,y,c in zip(hit_x,hit_pos,signs):
    ax.plot([x,xmax],[y,y],color=c,lw=1.1,dashes=(1,3.4),zorder=5,dash_capstyle="round")
# lead SNP takes the colour of its chromosome band
hit_core = []
for y in hit_pos:
    k = [bk for t,b,bk in zip(band_top,band_bot,band_black) if t <= y <= b]
    hit_core.append("black" if (k and k[0]) else GREY)
ax.scatter(hit_x,hit_pos,s=7,c=hit_core,lw=0,zorder=7)
ax.scatter(hit_x,hit_pos,s=32,facecolors="none",edgecolors=[ctype_color[c] for c in cell_of_max],lw=.9,zorder=8)

ax.set_xticks([0,5,10,15,20])
ax.set_yticks(chrom_ticks); ax.set_yticklabels(chrom_labels)
ax.tick_params(axis="both",length=4.5,width=.9,color="#333333",labelcolor="#4D4D4D",labelsize=16.5)
ax.tick_params(axis="x",pad=7.5)
ax.tick_params(axis="y",pad=6)
for s in ax.spines.values():
    s.set_color("#505050"); s.set_linewidth(.9)
T(362,133+11,"Alzheimer\u2019s GWAS Association -log10(P)",size=23.6)
T(12,1104,"Chromosome",size=23.8,ha="center",va="center",rot=90)

def to_data(px,py):
    return (px-X0)/PXU, py

labels = {}
for g,(lx,ly) in label_pos.items():
    i = gene_idx[g]
    x,y = to_data(lx,ly)
    labels[g] = ax.text(x,y,label_override.get(g,g),fontsize=15.7,fontweight="bold",color=ctype_color[cell_of_max[i]],
                        ha="left",va="center",zorder=9,clip_on=False)

fig.canvas.draw()
rend = fig.canvas.get_renderer()
inv = ax.transData.inverted()
for g,t in labels.items():
    i = gene_idx[g]
    bb = t.get_window_extent(rend)
    (x0,ybot),(x1,ytop) = inv.transform([(bb.x0,bb.y0),(bb.x1,bb.y1)])
    hx,hy = hit_x[i],hit_pos[i]
    yend = float(np.clip(hy,ytop+3,ybot-3))
    if hx < x0:
        xend = x0-.03
    elif hx > x1:
        xend = x1+.03
    else:
        xend = hx+.2; yend = ytop if hy<ytop else ybot
    ax.plot([hx,xend],[hy,yend],color=signs[i],lw=.8,zorder=6,clip_on=False)

# connectors from the panel to the table rows
cx = axpx(641.5,BOX[1],698,BOX[3])
cx.set_xlim(641.5,698); cx.set_ylim(BOX[3],BOX[1]); cx.axis("off"); cx.patch.set_alpha(0)
for i in range(N):
    cx.plot([641.5,664,685,698],[hit_pos[i],hit_pos[i],row_c(i),row_c(i)],color=signs[i],lw=.8,clip_on=False)

# ------------------------------------------------------------------ legends
def colorbar(box,cmap,norm,xlim,ticks,labeled,pad,ec="#555555"):
    a = axpx(*box)
    grad = np.linspace(xlim[0],xlim[1],256)
    a.imshow(cmap(norm(grad))[None,:,:],aspect="auto",extent=(xlim[0],xlim[1],0,1))
    a.set_xlim(*xlim); a.set_yticks([])
    a.set_xticks(ticks)
    a.set_xticklabels([(str(t).replace("-","\u2212").replace(".0","") if t in labeled else "") for t in ticks])
    a.tick_params(axis="x",direction="in",length=2.5,width=.7,color="#444444",pad=pad,labelsize=14.8)
    for s in a.spines.values():
        s.set_color(ec); s.set_linewidth(1)
    return a

LT, LB = 1791, 1816
colorbar((705,LT,834.7,LB),deg_cmap,deg_norm,(-1.083,1.078),[-1,-.5,0,.5,1],[-1,0,1],9)
colorbar((967,LT,1094.4,LB),dist_cmap,dist_norm,(-1.3,103.6),[0,50,100],[0,50,100],1.5)
colorbar((1127.8,LT,1256.6,LB),prox_cmap,prox_norm,(.918,3.077),[1,1.5,2,2.5,3],[1,2,3],1.5)
colorbar((1300.4,LT,1427.8,LB),link_cmap,link_norm,(-.37,6.27),[0,3,6],[0,3,6],1.5)
colorbar((1466.6,1790,1594,1815),snp_cmap,snp_norm,(-.69,20.7),[0,10,20],[0,10,20],1.5,ec="#402060")

for x,s in [(762,"MaxDEG"),(1030,"Distance (kb)"),(1195.4,"Proximity order"),(1359,"Linking"),(1531.5,"SNP score"),(1785,"SNP annotation")]:
    T(x,1777.7,s,size=15.5,va="center",weight="bold")
for y,s in zip([1777.7,1796.7,1814],["Cell Type","of Max","Diff"]):
    T(890,y,s,size=15.5,va="center",weight="bold")

legend_codes_left = ["Ex","I1","In","3U"]
legend_text_left = ["=Exon","=first intron","=other intron","=3\u2019 UTR"]
legend_codes_right = ["Up","Dn","Lc",""]
legend_text_right = ["=immed. upstr.","=immed. downstr","=Distal, Linked","=Distal, Not linked"]
leg_rows = [1803.7,1826.7,1849.7,1872.8]
for sx,codes,texts in [(1635.8,legend_codes_left,legend_text_left),(1799.8,legend_codes_right,legend_text_right)]:
    for y,c,s in zip(leg_rows,codes,texts):
        fig.patches.append(Rectangle((sx/W,1-(y+10.5)/H),26.3/W,21/H,transform=fig.transFigure,facecolor=annot_colors[c],edgecolor="#C0C0C0",lw=.8))
        if c:
            T(sx+13,y+7.5,c,size=15.5,color="white" if c in annot_text_white else "black")
        T(sx+28,y+7.5,s,size=15,ha="left")

fig.savefig("out.png",dpi=100,facecolor="white")
